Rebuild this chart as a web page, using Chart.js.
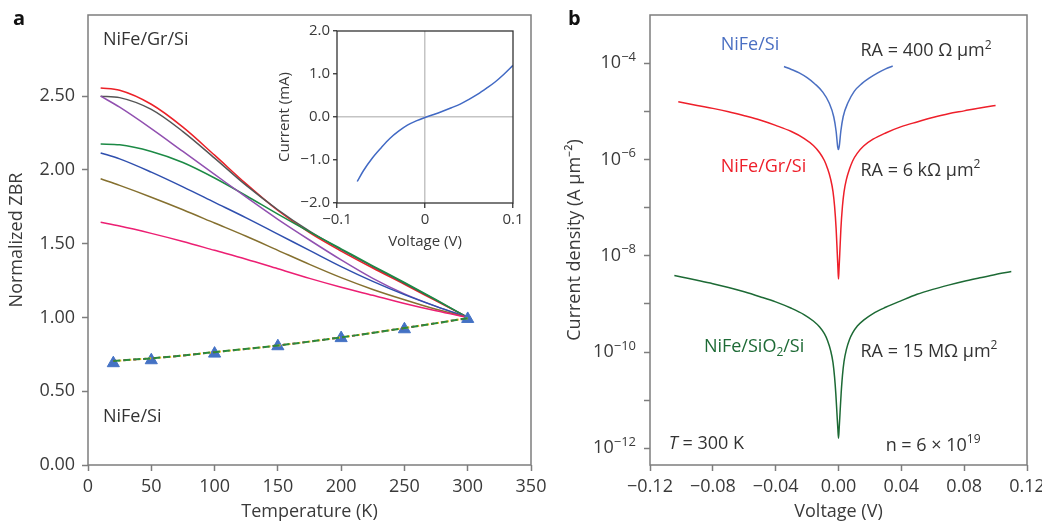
<!DOCTYPE html>
<html>
<head>
<meta charset="utf-8">
<script src="https://cdn.jsdelivr.net/npm/chart.js@4.4.1/dist/chart.umd.min.js"></script>
<style>
  body { margin: 0; background: #fff; }
  #wrap { position: relative; width: 1042px; height: 523px; overflow: hidden; }
  canvas { position: absolute; }
  .tag { position: absolute; font: bold 20px "Open Sans", sans-serif; color: #111; }
</style>
</head>
<body>
<div id="wrap">
  <canvas id="zbr" width="560" height="523" style="left:0;top:0"></canvas>
  <canvas id="iv" width="270" height="250" style="left:262px;top:16px"></canvas>
  <canvas id="jv" width="497" height="523" style="left:545px;top:0"></canvas>
  <div class="tag" style="left:13px;top:4px">a</div>
  <div class="tag" style="left:568px;top:4px">b</div>
</div>
<script>
// **Panel a: normalized zero-bias resistance vs temperature**
const temps = [10, 25, 50, 75, 100, 125, 150, 175, 200, 225, 250, 275, 300];
const zbrRed = [2.555, 2.54, 2.445, 2.29, 2.10, 1.905, 1.725, 1.575, 1.45, 1.335, 1.225, 1.112, 1.0];
const zbrGray = [2.50, 2.49, 2.41, 2.26, 2.08, 1.895, 1.73, 1.585, 1.46, 1.345, 1.232, 1.117, 1.0];
const zbrPurple = [2.50, 2.425, 2.28, 2.125, 1.97, 1.815, 1.665, 1.525, 1.39, 1.265, 1.16, 1.075, 1.0];
const zbrGreen = [2.175, 2.17, 2.125, 2.05, 1.945, 1.825, 1.70, 1.58, 1.465, 1.35, 1.237, 1.12, 1.0];
const zbrBlue = [2.115, 2.075, 1.985, 1.885, 1.78, 1.675, 1.565, 1.455, 1.345, 1.245, 1.155, 1.075, 1.0];
const zbrOlive = [1.94, 1.895, 1.815, 1.73, 1.64, 1.55, 1.455, 1.36, 1.27, 1.19, 1.12, 1.055, 1.0];
const zbrPink = [1.645, 1.62, 1.57, 1.515, 1.455, 1.395, 1.33, 1.265, 1.205, 1.15, 1.095, 1.045, 1.0];

const tempsSi = [20, 50, 100, 150, 200, 250, 300];
const zbrSi = [0.69, 0.71, 0.755, 0.805, 0.86, 0.92, 0.99];
const fitTemps = [20, 60, 100, 150, 200, 250, 300];
const fitSi = [0.705, 0.73, 0.765, 0.81, 0.865, 0.928, 0.995];

// **Inset: I-V of NiFe/Gr/Si**
const insetV = [-0.077, -0.07, -0.06, -0.05, -0.04, -0.03, -0.02, -0.01, 0, 0.01, 0.02, 0.03, 0.04, 0.05, 0.06, 0.07, 0.08, 0.09, 0.10];
const insetI = [-1.50, -1.25, -0.96, -0.72, -0.50, -0.33, -0.19, -0.09, -0.01, 0.06, 0.135, 0.215, 0.30, 0.41, 0.53, 0.67, 0.82, 1.00, 1.20];

// **Panel b: current density vs voltage (log)**
const vBlue = [-0.0347, -0.030, -0.025, -0.020, -0.015, -0.010, -0.006, -0.003, -0.0015, -0.0005, 0, 0.0005, 0.0015, 0.003, 0.006, 0.010, 0.015, 0.020, 0.025, 0.030, 0.0345];
const jBlue = [8.5e-5, 7.4e-5, 6.3e-5, 5.0e-5, 3.7e-5, 2.5e-5, 1.5e-5, 7.6e-6, 3.8e-6, 1.8e-6, 1.6e-6, 1.9e-6, 3.9e-6, 7.8e-6, 1.5e-5, 2.6e-5, 3.8e-5, 5.0e-5, 6.3e-5, 7.6e-5, 8.7e-5];
const vRed = [-0.102, -0.09, -0.08, -0.07, -0.06, -0.05, -0.04, -0.03, -0.022, -0.016, -0.012, -0.009, -0.007, -0.005, -0.0035, -0.0025, -0.0015, -0.0008, -0.0003, 0,
              0.0003, 0.0008, 0.0015, 0.0025, 0.0035, 0.005, 0.007, 0.009, 0.012, 0.016, 0.022, 0.03, 0.04, 0.05, 0.06, 0.07, 0.08, 0.09, 0.10];
const jRed = [1.58e-5, 1.32e-5, 1.15e-5, 9.8e-6, 8.1e-6, 6.6e-6, 5.1e-6, 3.8e-6, 2.75e-6, 1.95e-6, 1.38e-6, 9.5e-7, 6.5e-7, 3.9e-7, 2.15e-7, 1.07e-7, 3.6e-8, 1.15e-8, 5.0e-9, 3.3e-9,
              5.0e-9, 1.1e-8, 3.5e-8, 1.05e-7, 2.1e-7, 3.8e-7, 6.3e-7, 9.3e-7, 1.35e-6, 1.9e-6, 2.63e-6, 3.55e-6, 4.8e-6, 6.0e-6, 7.4e-6, 8.9e-6, 1.02e-5, 1.17e-5, 1.32e-5];
const vGreen = [-0.1045, -0.10, -0.09, -0.08, -0.07, -0.06, -0.05, -0.04, -0.03, -0.022, -0.016, -0.012, -0.009, -0.007, -0.005, -0.0035, -0.0025, -0.0017, -0.001, -0.0004, 0,
                0.0004, 0.001, 0.0017, 0.0025, 0.0035, 0.005, 0.007, 0.009, 0.012, 0.016, 0.022, 0.03, 0.04, 0.05, 0.06, 0.07, 0.08, 0.09, 0.10, 0.110];
const jGreen = [3.9e-9, 3.63e-9, 3.1e-9, 2.63e-9, 2.19e-9, 1.78e-9, 1.41e-9, 1.1e-9, 8.1e-10, 6.0e-10, 4.4e-10, 3.3e-10, 2.4e-10, 1.74e-10, 1.07e-10, 6.0e-11, 3.0e-11, 1.35e-11, 5.4e-12, 2.5e-12, 1.62e-12,
                2.5e-12, 5.6e-12, 1.41e-11, 3.2e-11, 6.3e-11, 1.12e-10, 1.82e-10, 2.5e-10, 3.47e-10, 4.6e-10, 6.3e-10, 8.5e-10, 1.17e-9, 1.58e-9, 2.0e-9, 2.45e-9, 2.95e-9, 3.47e-9, 4.07e-9, 4.68e-9];

const logTicks = [1e-12, 1e-11, 1e-10, 1e-9, 1e-8, 1e-7, 1e-6, 1e-5, 1e-4];
const logTickLabels = ["10^−12", "", "10^−10", "", "10^−8", "", "10^−6", "", "10^−4"];
const vTicks = [-0.12, -0.08, -0.04, 0, 0.04, 0.08, 0.12];

const FONT = '"Open Sans", sans-serif';
Chart.defaults.font.family = FONT;
Chart.defaults.color = "#3a3a3a";
Chart.defaults.animation = false;

const pairs = (xs, ys) => xs.map((x, i) => ({ x: x, y: ys[i] }));
const minus = (s) => s.replace("-", "\u2212");

// frame round the plot area
const frame = {
    id: "frame",
    afterDraw(chart, args, o) {
        let c = chart.chartArea, ctx = chart.ctx;
        ctx.save();
        ctx.strokeStyle = o.color;
        ctx.lineWidth = o.width;
        ctx.strokeRect(c.left, c.top, c.right - c.left, c.bottom - c.top);
        ctx.restore();
    }
};

// text notes placed in data units, with sup/sub/italic parts
const notes = {
    id: "notes",
    afterDatasetsDraw(chart, args, o) {
        let ctx = chart.ctx, sx = chart.scales.x, sy = chart.scales.y;
        (o.items || []).forEach((item) => {
            let px = sx.getPixelForValue(item.x), py = sy.getPixelForValue(item.y);
            ctx.save();
            ctx.textBaseline = "middle";
            ctx.textAlign = "left";
            ctx.fillStyle = item.color || "#333";
            item.parts.forEach((p) => {
                let small = p.sup || p.sub;
                let size = small ? 12 : 18;
                ctx.font = (p.italic ? "italic " : "") + size + "px " + FONT;
                let dy = p.sup ? -6 : (p.sub ? 5 : 0);
                ctx.fillText(p.t, px, py + dy);
                px += ctx.measureText(p.t).width;
            });
            ctx.restore();
        });
    }
};

// power-of-ten labels for the log axis, drawn with a raised exponent
const decades = {
    id: "decades",
    afterDraw(chart) {
        let ctx = chart.ctx, sy = chart.scales.y, right = chart.chartArea.left - 14;
        ctx.save();
        ctx.fillStyle = "#3a3a3a";
        ctx.textBaseline = "middle";
        ctx.textAlign = "left";
        logTicks.forEach((v, i) => {
            if (!logTickLabels[i]) return;
            let [base, exp] = logTickLabels[i].split("^");
            let py = sy.getPixelForValue(v);
            ctx.font = "18px " + FONT;
            let wb = ctx.measureText(base).width;
            ctx.font = "13px " + FONT;
            let we = ctx.measureText(exp).width;
            ctx.font = "18px " + FONT;
            ctx.fillText(base, right - wb - we, py);
            ctx.font = "13px " + FONT;
            ctx.fillText(exp, right - we, py - 6);
        });
        ctx.restore();
    }
};

function curve(label, xs, ys, color) {
    return {
        label: label, data: pairs(xs, ys), borderColor: color, borderWidth: 1.5,
        pointRadius: 0, fill: false, cubicInterpolationMode: "monotone"
    };
}
function dashed(color, dash, offset) {
    return {
        data: pairs(fitTemps, fitSi), borderColor: color, borderWidth: 2,
        borderDash: dash, borderDashOffset: offset, pointRadius: 0, fill: false,
        cubicInterpolationMode: "monotone"
    };
}

const axisGray = "#7d7d7d";
const tickFont = { size: 18 };
const titleFont = { size: 18 };

// **Panel a**  (datasets listed top layer first)
new Chart(document.getElementById("zbr"), {
    type: "line",
    data: {
        datasets: [
            dashed("#2a8a3e", [7, 3], 0),
            dashed("#e8322c", [3, 7], 0),
            dashed("#f0c419", [3, 7], 5),
            { data: pairs(tempsSi, zbrSi), showLine: false, pointStyle: "triangle", pointRadius: 7,
              backgroundColor: "#4472c4", borderColor: "#4472c4", borderWidth: 1 },
            curve("pink", temps, zbrPink, "#ec1f73"),
            curve("olive", temps, zbrOlive, "#85702f"),
            curve("blue", temps, zbrBlue, "#2f4fae"),
            curve("purple", temps, zbrPurple, "#9150b0"),
            curve("green", temps, zbrGreen, "#1c8a45"),
            curve("gray", temps, zbrGray, "#555555"),
            curve("red", temps, zbrRed, "#ec2027")
        ].map((d, i) => Object.assign(d, { order: i }))
    },
    options: {
        responsive: false,
        devicePixelRatio: 1,
        layout: { padding: { left: 0, top: 15, right: 29, bottom: 0 } },
        plugins: {
            legend: { display: false }, tooltip: { enabled: false },
            frame: { color: axisGray, width: 1.5 },
            notes: { items: [
                { x: 11.8, y: 2.88, parts: [{ t: "NiFe/Gr/Si" }] },
                { x: 11.8, y: 0.325, parts: [{ t: "NiFe/Si" }] }
            ] }
        },
        scales: {
            x: {
                type: "linear", min: 0, max: 350,
                ticks: { stepSize: 50, font: tickFont, padding: 5, maxRotation: 0 },
                grid: { drawOnChartArea: false, tickLength: 6, tickColor: axisGray, tickWidth: 1.5 },
                border: { display: false },
                title: { display: true, text: "Temperature (K)", font: titleFont, padding: { top: 0, bottom: 0 } },
                afterFit: (s) => { s.height = 58; s.paddingLeft = 0; s.paddingRight = 0; }
            },
            y: {
                min: 0, max: 3.05,
                ticks: { stepSize: 0.5, font: tickFont, padding: 7, callback: (v) => v.toFixed(2) },
                afterBuildTicks: (s) => { s.ticks = s.ticks.filter((t) => t.value <= 2.5001); },
                grid: { drawOnChartArea: false, tickLength: 6, tickColor: axisGray, tickWidth: 1.5 },
                border: { display: false },
                title: { display: true, text: "Normalized ZBR", font: titleFont, padding: { top: 6 } },
                afterFit: (s) => { s.width = 88; s.paddingTop = 0; s.paddingBottom = 0; }
            }
        }
    },
    plugins: [frame, notes]
});

// **Inset**
new Chart(document.getElementById("iv"), {
    type: "line",
    data: { datasets: [curve("IV", insetV, insetI, "#4169c4")] },
    options: {
        responsive: false,
        devicePixelRatio: 1,
        layout: { padding: { left: 0, top: 15, right: 19, bottom: 0 } },
        plugins: { legend: { display: false }, tooltip: { enabled: false }, frame: { color: "#333", width: 1.3 } },
        scales: {
            x: {
                type: "linear", min: -0.1, max: 0.1,
                ticks: { stepSize: 0.1, font: { size: 15 }, padding: 3, maxRotation: 0,
                         callback: (v) => Math.abs(v) < 1e-9 ? "0" : minus(v.toFixed(1)) },
                grid: { color: (c) => (c.tick && Math.abs(c.tick.value) < 1e-9) ? "#c4c4c4" : "rgba(0,0,0,0)",
                        lineWidth: 1.5, tickLength: 5, tickColor: "#333", tickWidth: 1.3 },
                border: { display: false },
                title: { display: true, text: "Voltage (V)", font: { size: 15 }, padding: { top: 0, bottom: 15 } },
                afterFit: (s) => { s.height = 63; s.paddingLeft = 0; s.paddingRight = 0; }
            },
            y: {
                min: -2, max: 2,
                ticks: { stepSize: 1, font: { size: 15 }, padding: 3, callback: (v) => minus(v.toFixed(1)) },
                grid: { color: (c) => (c.tick && Math.abs(c.tick.value) < 1e-9) ? "#c4c4c4" : "rgba(0,0,0,0)",
                        lineWidth: 1.5, tickLength: 4, tickColor: "#333", tickWidth: 1.3 },
                border: { display: false },
                title: { display: true, text: "Current (mA)", font: { size: 15 }, padding: { top: 14 } },
                afterFit: (s) => { s.width = 75; s.paddingTop = 0; s.paddingBottom = 0; }
            }
        }
    },
    plugins: [frame]
});

// **Panel b**
new Chart(document.getElementById("jv"), {
    type: "line",
    data: {
        datasets: [
            curve("NiFe/Si", vBlue, jBlue, "#4a6fc2"),
            curve("NiFe/Gr/Si", vRed, jRed, "#ee1f2a"),
            curve("NiFe/SiO2/Si", vGreen, jGreen, "#1d6a35")
        ]
    },
    options: {
        responsive: false,
        devicePixelRatio: 1,
        layout: { padding: { left: 0, top: 15, right: 15, bottom: 0 } },
        plugins: {
            legend: { display: false }, tooltip: { enabled: false },
            frame: { color: axisGray, width: 1.5 },
            notes: { items: [
                { x: -0.075, y: 2.37e-4, color: "#4a6fc2", parts: [{ t: "NiFe/Si" }] },
                { x: 0.014, y: 1.78e-4, parts: [{ t: "RA = 400 Ω μm" }, { t: "2", sup: true }] },
                { x: -0.075, y: 7.1e-7, color: "#ee1f2a", parts: [{ t: "NiFe/Gr/Si" }] },
                { x: 0.014, y: 5.9e-7, parts: [{ t: "RA = 6 kΩ μm" }, { t: "2", sup: true }] },
                { x: -0.0857, y: 1.26e-10, color: "#1d6a35", parts: [{ t: "NiFe/SiO" }, { t: "2", sub: true }, { t: "/Si" }] },
                { x: 0.014, y: 1.0e-10, parts: [{ t: "RA = 15 MΩ μm" }, { t: "2", sup: true }] },
                { x: -0.108, y: 1.26e-12, parts: [{ t: "T", italic: true }, { t: " = 300 K" }] },
                { x: 0.030, y: 1.15e-12, parts: [{ t: "n = 6 × 10" }, { t: "19", sup: true }] }
            ] }
        },
        scales: {
            x: {
                type: "linear", min: -0.12, max: 0.12,
                afterBuildTicks: (s) => { s.ticks = vTicks.map((v) => ({ value: v })); },
                ticks: { font: tickFont, padding: 5, maxRotation: 0,
                         callback: (v) => Math.abs(v) < 1e-9 ? "0.00" : minus(v.toFixed(2)) },
                grid: { drawOnChartArea: false, tickLength: 6, tickColor: axisGray, tickWidth: 1.5 },
                border: { display: false },
                title: { display: true, text: "Voltage (V)", font: titleFont, padding: { top: 0, bottom: 0 } },
                afterFit: (s) => { s.height = 58; s.paddingLeft = 0; s.paddingRight = 0; }
            },
            y: {
                type: "logarithmic", min: 4.5e-13, max: 1e-3,
                afterBuildTicks: (s) => { s.ticks = logTicks.map((v) => ({ value: v })); },
                ticks: { font: tickFont, padding: 7, autoSkip: false, callback: () => "" },
                grid: { drawOnChartArea: false, tickLength: 6, tickColor: axisGray, tickWidth: 1.5 },
                border: { display: false },
                title: { display: true, text: "Current density (A μm⁻²)", font: titleFont, padding: { top: 19 } },
                afterFit: (s) => { s.width = 105; s.paddingTop = 0; s.paddingBottom = 0; }
            }
        }
    },
    plugins: [frame, notes, decades]
});
</script>
</body>
</html>
